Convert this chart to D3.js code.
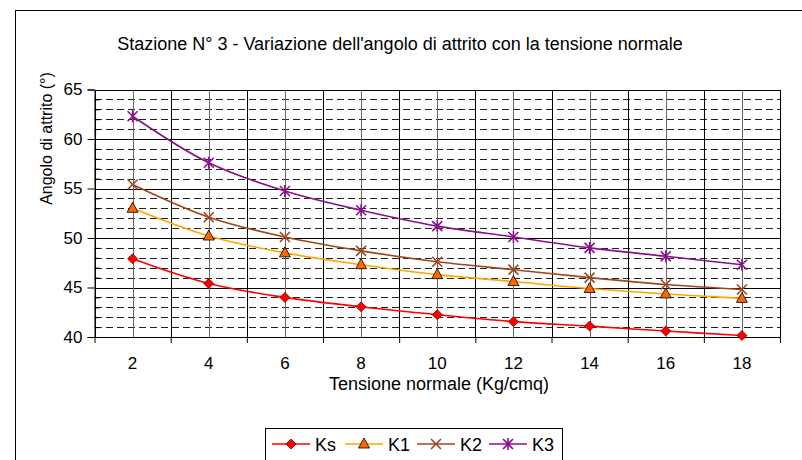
<!DOCTYPE html>
<html>
<head>
<meta charset="utf-8">
<script src="https://cdn.jsdelivr.net/npm/d3@7"></script>
<style>
  body { margin: 0; background: #fff; }
  text { font-family: "Liberation Sans", Arial, sans-serif; fill: #000; }
</style>
</head>
<body>
<svg id="chart" width="802" height="460"></svg>
<script>
// Chart data
var categories = [2, 4, 6, 8, 10, 12, 14, 16, 18];
var ks = [47.9, 45.4, 44.0, 43.05, 42.25, 41.55, 41.1, 40.6, 40.15];
var k1 = [53.0, 50.2, 48.5, 47.3, 46.3, 45.6, 44.9, 44.35, 43.9];
var k2 = [55.4, 52.1, 50.1, 48.7, 47.6, 46.8, 46.0, 45.3, 44.8];
var k3 = [62.3, 57.6, 54.75, 52.8, 51.2, 50.1, 49.0, 48.15, 47.3];
var seriesNames = ["Ks", "K1", "K2", "K3"];
var yTicks = [40, 45, 50, 55, 60, 65];

var titleText = "Stazione N° 3 - Variazione dell'angolo di attrito con la tensione normale";
var xTitle = "Tensione normale (Kg/cmq)";
var yTitle = "Angolo di attrito (°)";

var series = [
    {name: seriesNames[0], values: ks, line: "#ff0000", fill: "#ff0000", marker: "diamond"},
    {name: seriesNames[1], values: k1, line: "#ffa500", fill: "#ff6600", marker: "triangle"},
    {name: seriesNames[2], values: k2, line: "#a0461e", fill: "#a0461e", marker: "x"},
    {name: seriesNames[3], values: k3, line: "#8b108b", fill: "#8b108b", marker: "star"}
];

var svg = d3.select("#chart");
var pLeft = 94.5, pRight = 780, pTop = 89.5, pBottom = 337;

var x = d3.scaleBand().domain(categories).range([pLeft, pRight]).padding(0);
var y = d3.scaleLinear().domain([40, 65]).range([pBottom, pTop]);
function cx(c) { return x(c) + x.bandwidth() / 2; }

// outer chart border (cropped at right/bottom)
svg.append("rect")
    .attr("x", 15.5).attr("y", 10.5)
    .attr("width", 800).attr("height", 460)
    .attr("fill", "none").attr("stroke", "#000").attr("stroke-width", 1);

// gridlines
var grid = svg.append("g").attr("shape-rendering", "crispEdges");
var minorVals = d3.range(41, 65).filter(function(v) { return v % 5 != 0; });
grid.selectAll(".hminor").data(minorVals).enter().append("line")
    .attr("x1", pLeft).attr("x2", pRight)
    .attr("y1", function(d) { return Math.round(y(d)) + 0.5; })
    .attr("y2", function(d) { return Math.round(y(d)) + 0.5; })
    .attr("stroke", "#222").attr("stroke-dasharray", "7,4");
grid.selectAll(".hmajor").data(yTicks).enter().append("line")
    .attr("x1", pLeft).attr("x2", pRight)
    .attr("y1", function(d) { return Math.round(y(d)) + 0.5; })
    .attr("y2", function(d) { return Math.round(y(d)) + 0.5; })
    .attr("stroke", "#000");
var bounds = categories.map(function(c) { return x(c); }).concat([pRight]);
grid.selectAll(".vb").data(bounds).enter().append("line")
    .attr("x1", function(d) { return Math.round(d) + 0.5; })
    .attr("x2", function(d) { return Math.round(d) + 0.5; })
    .attr("y1", pTop).attr("y2", pBottom)
    .attr("stroke", "#000");
grid.selectAll(".vc").data(categories).enter().append("line")
    .attr("x1", function(d) { return Math.round(cx(d)) + 0.5; })
    .attr("x2", function(d) { return Math.round(cx(d)) + 0.5; })
    .attr("y1", pTop).attr("y2", pBottom)
    .attr("stroke", "#666").attr("stroke-width", 1.5);

// y axis
var yAxis = svg.append("g").attr("transform", "translate(" + pLeft + ",0)")
    .call(d3.axisLeft(y).tickValues(yTicks).tickSize(7).tickPadding(5));
yAxis.select(".domain").attr("stroke", "#000");
yAxis.selectAll("text").style("font-size", "17px");
svg.append("g").attr("transform", "translate(" + pLeft + ",0)")
    .call(d3.axisRight(y).tickValues(minorVals).tickSize(5).tickFormat(""))
    .select(".domain").remove();

// x axis
var xAxis = svg.append("g").attr("transform", "translate(0," + pBottom + ")")
    .call(d3.axisBottom(x).tickSize(0).tickPadding(20));
xAxis.select(".domain").attr("stroke", "#000");
xAxis.selectAll("text").style("font-size", "17px");
svg.append("g").attr("transform", "translate(0," + pBottom + ")")
    .call(d3.axisBottom(d3.scaleLinear().domain([0, 9]).range([pLeft, pRight]))
        .tickValues(d3.range(0, 10)).tickSize(6).tickFormat(""))
    .select(".domain").remove();

// titles
svg.append("text").attr("x", 400).attr("y", 50)
    .attr("text-anchor", "middle").style("font-size", "18px").text(titleText);
svg.append("text").attr("x", 439).attr("y", 390)
    .attr("text-anchor", "middle").style("font-size", "18px").text(xTitle);
svg.append("text").attr("transform", "translate(52,138.5) rotate(-90)")
    .attr("text-anchor", "middle").style("font-size", "16px").text(yTitle);

// markers
function drawMarker(g, kind, s) {
    if (kind == "diamond") {
        g.append("path").attr("d", "M0,-5L5,0L0,5L-5,0Z")
            .attr("fill", s.fill).attr("stroke", "#800000").attr("stroke-width", 0.8);
    } else if (kind == "triangle") {
        g.append("path").attr("d", "M0,-6L5.5,4L-5.5,4Z")
            .attr("fill", s.fill).attr("stroke", "#000").attr("stroke-width", 0.8);
    } else if (kind == "x") {
        g.append("path").attr("d", "M-5,-5L5,5M-5,5L5,-5")
            .attr("stroke", s.fill).attr("stroke-width", 1.6);
    } else {
        g.append("path").attr("d", "M-5,-5L5,5M-5,5L5,-5M0,-6L0,6")
            .attr("stroke", s.fill).attr("stroke-width", 1.6);
    }
}

var line = d3.line()
    .x(function(d, i) { return cx(categories[i]); })
    .y(function(d) { return y(d); })
    .curve(d3.curveCatmullRom.alpha(0.5));

series.forEach(function(s) {
    svg.append("path").datum(s.values)
        .attr("d", line).attr("fill", "none")
        .attr("stroke", s.line).attr("stroke-width", 1.6);
    s.values.forEach(function(v, i) {
        var g = svg.append("g").attr("transform", "translate(" + cx(categories[i]) + "," + y(v) + ")");
        drawMarker(g, s.marker, s);
    });
});

// legend
var legend = svg.append("g");
legend.append("rect").attr("x", 265.5).attr("y", 428.5)
    .attr("width", 297).attr("height", 40)
    .attr("fill", "#fff").attr("stroke", "#000");
var legX = [272, 345, 417, 489];
series.forEach(function(s, i) {
    var lg = legend.append("g").attr("transform", "translate(" + legX[i] + ",444)");
    lg.append("line").attr("x1", 0).attr("x2", 38).attr("stroke", s.line).attr("stroke-width", 1.6);
    var mg = lg.append("g").attr("transform", "translate(19,0)");
    drawMarker(mg, s.marker, s);
    lg.append("text").attr("x", 43).attr("y", 6.5).style("font-size", "18px").text(s.name);
});
</script>
</body>
</html>
